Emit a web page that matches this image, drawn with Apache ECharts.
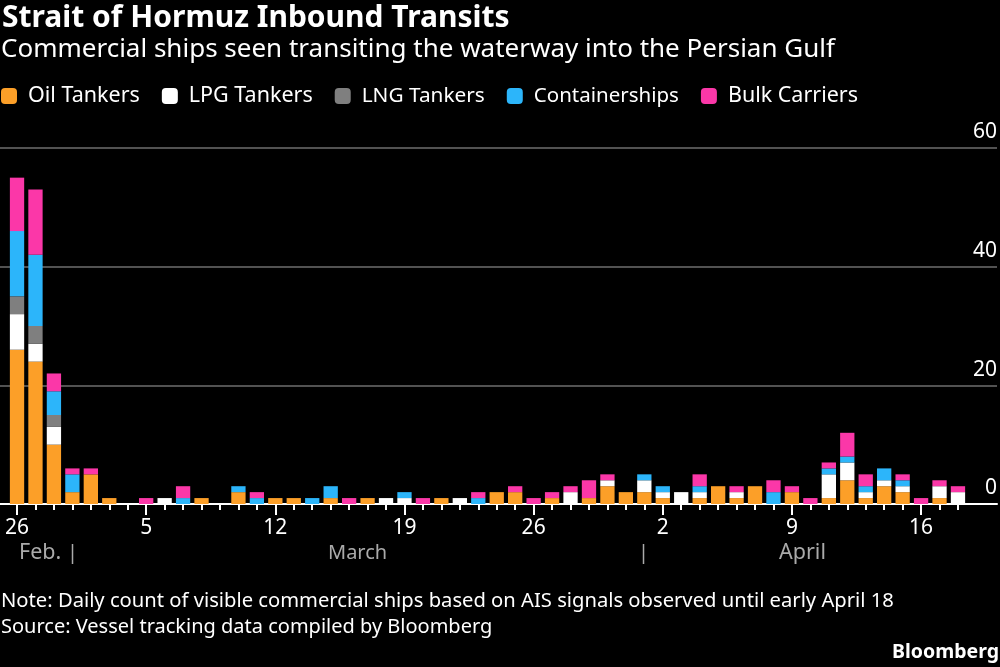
<!DOCTYPE html>
<html>
<head>
<meta charset="utf-8">
<style>
  html, body { margin: 0; padding: 0; background: #000; }
  #chart { width: 1000px; height: 667px; }
</style>
<script src="https://cdn.jsdelivr.net/npm/echarts@6/dist/echarts.min.js"></script>
</head>
<body>
<div id="chart"></div>
<script>
// Feb 26 to April 18, one entry per day
var days = ['26','27','28',
  '1','2','3','4','5','6','7','8','9','10','11','12','13','14','15','16','17','18','19','20','21','22','23','24','25','26','27','28','29','30','31',
  '1','2','3','4','5','6','7','8','9','10','11','12','13','14','15','16','17','18'];

var oilTankers =     [26,24,10,2,5,1,0,0,0,0,1,0,2,0,1,1,0,1,0,1,0,0,0,1,0,0,2,2,0,1,0,1,3,2,2,1,0,1,3,1,3,0,2,0,1,4,1,3,2,0,1,0];
var lpgTankers =     [6,3,3,0,0,0,0,0,1,0,0,0,0,0,0,0,0,0,0,0,1,1,0,0,1,0,0,0,0,0,2,0,1,0,2,1,2,1,0,1,0,0,0,0,4,3,1,1,1,0,2,2];
var lngTankers =     [3,3,2,0,0,0,0,0,0,0,0,0,0,0,0,0,0,0,0,0,0,0,0,0,0,0,0,0,0,0,0,0,0,0,0,0,0,0,0,0,0,0,0,0,0,0,0,0,0,0,0,0];
var containerships = [11,12,4,3,0,0,0,0,0,1,0,0,1,1,0,0,1,2,0,0,0,1,0,0,0,1,0,0,0,0,0,0,0,0,1,1,0,1,0,0,0,2,0,0,1,1,1,2,1,0,0,0];
var bulkCarriers =   [9,11,3,1,1,0,0,1,0,2,0,0,0,1,0,0,0,0,1,0,0,0,1,0,0,1,0,1,1,1,1,3,1,0,0,0,0,2,0,1,0,2,1,1,1,4,2,0,1,1,1,1];

var seriesNames = ['Oil Tankers', 'LPG Tankers', 'LNG Tankers', 'Containerships', 'Bulk Carriers'];
var seriesValues = [oilTankers, lpgTankers, lngTankers, containerships, bulkCarriers];
var seriesColors = ['#fc9f28', '#ffffff', '#7f7f7f', '#2cb5fa', '#fb37a8'];

var fontName = '"Noto Sans"';
var chart = echarts.init(document.getElementById('chart'));

function textItem(x, y, text, size, color, weight) {
  return {
    type: 'text', x: x, y: y,
    style: { text: text, fontFamily: fontName, fontSize: size, fontWeight: weight || 'normal', fill: color, textVerticalAlign: 'middle' }
  };
}

var option = {
  backgroundColor: '#000',
  animation: false,
  textStyle: { fontFamily: fontName },
  legend: {
    data: [
      { name: 'Oil Tankers' },
      { name: 'LPG Tankers' },
      { name: 'LNG Tankers', textStyle: { fontSize: 20.8 } },
      { name: 'Containerships', textStyle: { fontSize: 20.5 } },
      { name: 'Bulk Carriers' }
    ],
    left: 1,
    top: 85,
    padding: 0,
    icon: 'roundRect',
    itemWidth: 16,
    itemHeight: 16,
    itemGap: 22,
    selectedMode: false,
    textStyle: { color: '#fff', fontSize: 21.5, fontFamily: fontName, padding: [0, 0, 0, 6] }
  },
  grid: [
    // wide grid only for gridlines and baseline
    { left: 0, right: 3, top: 148, bottom: 163 },
    { left: 7.8, width: 959.4, top: 148, bottom: 163 }
  ],
  xAxis: [
    {
      gridIndex: 0, type: 'category', position: 'bottom', data: [''],
      axisLine: { show: true, lineStyle: { color: '#fff', width: 2 } },
      axisTick: { show: false }, axisLabel: { show: false }
    },
    {
      gridIndex: 1, type: 'category', position: 'bottom', data: days,
      axisLine: { show: false },
      axisTick: { show: true, alignWithLabel: true, interval: 0, length: 6, lineStyle: { color: '#fff', width: 2 } },
      axisLabel: { show: false }
    },
    {
      // weekly ticks and labels
      gridIndex: 1, type: 'category', position: 'bottom', data: days,
      axisLine: { show: false },
      axisTick: { show: true, alignWithLabel: true, interval: 6, length: 11, lineStyle: { color: '#fff', width: 2 } },
      axisLabel: { show: true, interval: 6, color: '#fff', fontSize: 21, margin: 14, fontFamily: fontName, hideOverlap: false }
    }
  ],
  yAxis: [
    {
      gridIndex: 0, type: 'value', position: 'right', min: 0, max: 60, interval: 20,
      axisLine: { show: false }, axisTick: { show: false },
      splitLine: { show: true, lineStyle: { color: '#6e6e6e', width: 1.5 } },
      axisLabel: { inside: true, color: '#fff', fontSize: 21, margin: 0, verticalAlign: 'bottom', padding: [0, 0, 5, 0], fontFamily: fontName }
    },
    {
      gridIndex: 1, type: 'value', min: 0, max: 60, interval: 20,
      axisLine: { show: false }, axisTick: { show: false }, axisLabel: { show: false }, splitLine: { show: false }
    }
  ],
  series: seriesNames.map(function (name, i) {
    return {
      name: name,
      type: 'bar',
      stack: 'ships',
      xAxisIndex: 1,
      yAxisIndex: 1,
      barWidth: 14.3,
      z: 3,
      itemStyle: { color: seriesColors[i] },
      data: seriesValues[i]
    };
  }),
  graphic: [
    textItem(2, 18, 'Strait of Hormuz Inbound Transits', 30, '#fff', 'bold'),
    textItem(1, 50, 'Commercial ships seen transiting the waterway into the Persian Gulf', 26, '#fff'),
    textItem(19, 553, 'Feb.', 21.5, '#aaa'),
    textItem(67, 553, '|', 20, '#aaa'),
    textItem(328, 553, 'March', 20, '#aaa'),
    textItem(638, 553, '|', 20, '#aaa'),
    textItem(779, 553, 'April', 21.5, '#aaa'),
    textItem(1, 601, 'Note: Daily count of visible commercial ships based on AIS signals observed until early April 18', 20.2, '#fff'),
    textItem(1, 627, 'Source: Vessel tracking data compiled by Bloomberg', 20, '#fff'),
    textItem(892, 652, 'Bloomberg', 19.5, '#fff', 'bold')
  ]
};
chart.setOption(option);
</script>
</body>
</html>
